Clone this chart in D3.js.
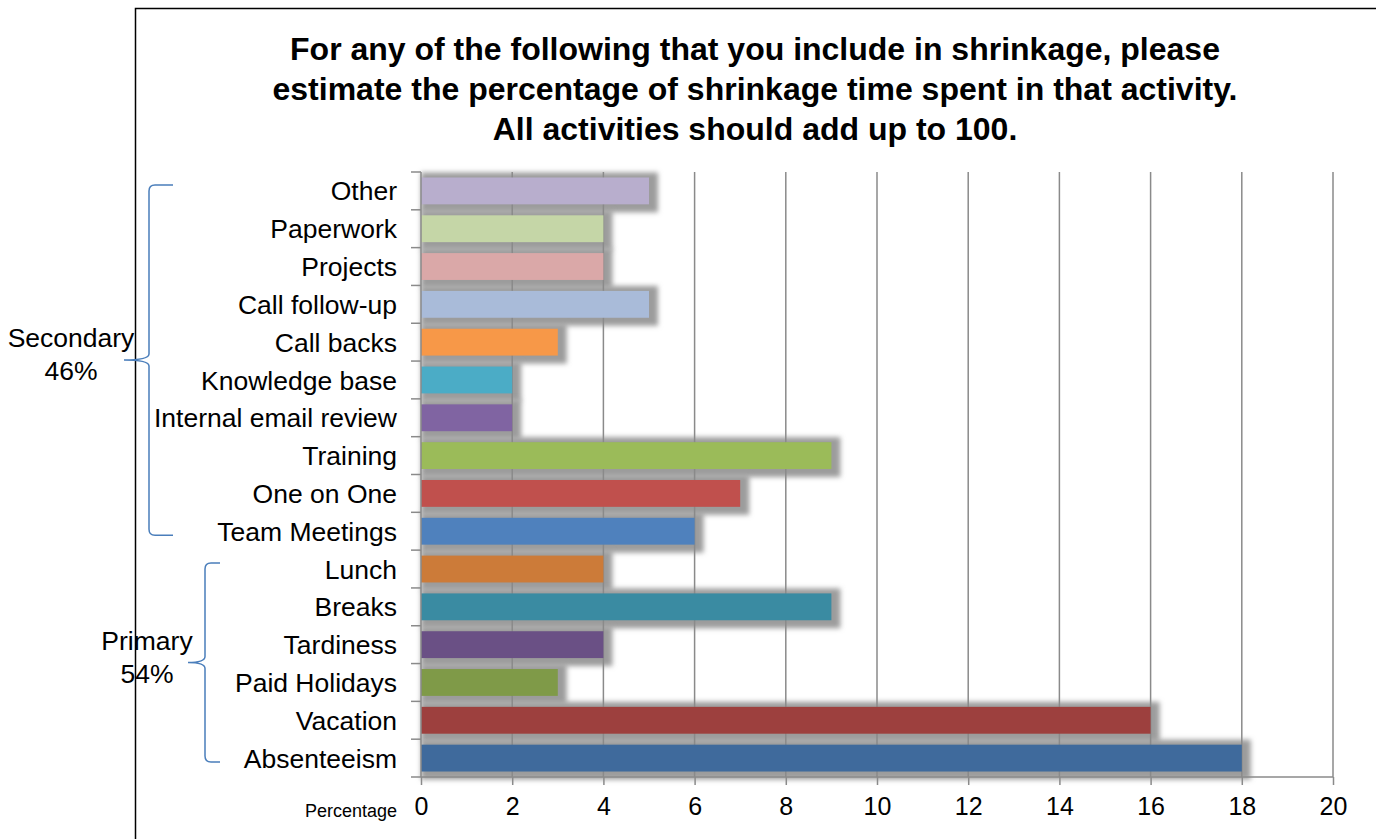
<!DOCTYPE html>
<meta charset="utf-8"/>
<style>
  html, body { margin: 0; padding: 0; background: #fff; }
  text { font-family: "Liberation Sans", Arial, sans-serif; fill: #000; }
  .grid line { stroke: #8a8a8a; stroke-width: 1.5px; }
  .axis path, .axis line { stroke: #8a8a8a; stroke-width: 1.5px; }
  .brace { fill: none; stroke: #4a7ebb; stroke-width: 1.5px; }
</style>
<body>
<svg width="1376" height="839"></svg>
</body>
<script src="https://cdnjs.cloudflare.com/ajax/libs/d3/7.8.5/d3.min.js"></script>
<script>

  // categories, top to bottom as drawn
  var categories = ["Other", "Paperwork", "Projects", "Call follow-up", "Call backs",
    "Knowledge base", "Internal email review", "Training", "One on One", "Team Meetings",
    "Lunch", "Breaks", "Tardiness", "Paid Holidays", "Vacation", "Absenteeism"]
  var values = [5, 4, 4, 5, 3, 2, 2, 9, 7, 6, 4, 9, 4, 3, 16, 18]
  var barColors = ["#b8aecd", "#c5d6a7", "#daa8a8", "#a9bbd9", "#f79848", "#4bacc6",
    "#8064a2", "#9bbb59", "#c0504d", "#4f81bd", "#cc7b39", "#3a8ba2", "#6a5085",
    "#7f9a48", "#9d403e", "#3f6a9c"]
  var xTicks = [0, 2, 4, 6, 8, 10, 12, 14, 16, 18, 20]
  var groups = [
    { name: "Secondary", share: "46%", first: "Other", last: "Team Meetings" },
    { name: "Primary", share: "54%", first: "Lunch", last: "Absenteeism" }
  ]
  var titleLines = [
    "For any of the following that you include in shrinkage, please",
    "estimate the percentage of shrinkage time spent in that activity.",
    "All activities should add up to 100."
  ]

  var svg = d3.select("svg")
  var margin = { left: 421, right: 43, top: 172, bottom: 62 }
  var width = +svg.attr("width"), height = +svg.attr("height")

  var x = d3.scaleLinear().domain([0, 20]).range([margin.left, width - margin.right])
  var y = d3.scaleBand().domain(categories)
    .range([margin.top, height - margin.bottom]).paddingInner(0.29).paddingOuter(0.145)

  // soft grey glow behind each bar
  var defs = svg.append("defs")
  defs.append("filter").attr("id", "blur")
    .attr("x", "-20%").attr("y", "-100%").attr("width", "140%").attr("height", "300%")
    .append("feGaussianBlur").attr("stdDeviation", 2.6)

  // outer frame (runs off the right and bottom of the picture)
  svg.append("path")
    .attr("d", "M135.5," + (height + 5) + "V8.5H" + (width + 5))
    .attr("fill", "none").attr("stroke", "#000").attr("stroke-width", 1.5)

  // title
  svg.append("g").selectAll("text")
    .data(titleLines)
    .enter().append("text")
    .attr("x", 755)
    .attr("y", function (d, i) { return 60 + i * 40 })
    .attr("text-anchor", "middle")
    .style("font-size", "32px")
    .style("font-weight", "bold")
    .text(function (d) { return d })

  // shadows first, so the gridlines still show through them
  svg.append("g").selectAll("rect")
    .data(categories)
    .enter().append("rect")
    .attr("x", x(0))
    .attr("y", function (d) { return y(d) - 5 })
    .attr("width", function (d, i) { return x(values[i]) - x(0) + 9 })
    .attr("height", y.bandwidth() + 13)
    .attr("fill", "#9c9c9c")
    .attr("filter", "url(#blur)")

  // vertical gridlines
  svg.append("g").attr("class", "grid")
    .selectAll("line")
    .data(xTicks.slice(1))
    .enter().append("line")
    .attr("x1", function (d) { return x(d) }).attr("x2", function (d) { return x(d) })
    .attr("y1", margin.top).attr("y2", height - margin.bottom)

  // bars
  svg.append("g").selectAll("rect")
    .data(categories)
    .enter().append("rect")
    .attr("x", x(0))
    .attr("y", function (d) { return y(d) })
    .attr("width", function (d, i) { return x(values[i]) - x(0) })
    .attr("height", y.bandwidth())
    .attr("fill", function (d, i) { return barColors[i] })

  // category axis: line + ticks at band boundaries
  var boundaries = categories.map(function (d) { return y(d) - y.step() * y.paddingInner() / 2 })
  boundaries.push(height - margin.bottom)
  var yAx = svg.append("g").attr("class", "axis")
  yAx.append("path").attr("d", "M" + x(0) + "," + margin.top + "V" + (height - margin.bottom))
  yAx.selectAll("line").data(boundaries).enter().append("line")
    .attr("x1", x(0) - 10).attr("x2", x(0))
    .attr("y1", function (d) { return d }).attr("y2", function (d) { return d })
  yAx.selectAll("text").data(categories).enter().append("text")
    .attr("x", 397)
    .attr("y", function (d) { return y(d) + y.bandwidth() / 2 })
    .attr("dy", "0.36em")
    .attr("text-anchor", "end")
    .style("font-size", "26.5px")
    .text(function (d) { return d })

  // value axis at the bottom
  var xAxis = d3.axisBottom(x).tickValues(xTicks).tickSize(8).tickSizeOuter(0).tickPadding(12)
  var xg = svg.append("g").attr("class", "axis")
    .attr("transform", "translate(0," + (height - margin.bottom) + ")")
    .call(xAxis)
  xg.select(".domain").attr("d", "M" + x(0) + ",0H" + x(20))
  xg.selectAll("text").style("font-size", "25px").attr("font-family", null)
  xg.append("text")
    .attr("x", 397).attr("y", 40)
    .attr("text-anchor", "end")
    .style("font-size", "18px")
    .text("Percentage")

  // group braces and labels
  var braceSpecs = [
    { tipX: 173, barX: 149, midX: 124, labelX: 71 },
    { tipX: 220, barX: 205, midX: 188, labelX: 147 }
  ]
  groups.forEach(function (g, i) {
    var s = braceSpecs[i]
    var y0 = y(g.first) + y.bandwidth() / 2 - 6
    var y1 = y(g.last) + y.bandwidth() / 2 + 4
    var ym = (y0 + y1) / 2
    var r = 6
    var d = "M" + s.tipX + "," + y0 +
      "H" + (s.barX + r) + "Q" + s.barX + "," + y0 + " " + s.barX + "," + (y0 + r) +
      "V" + (ym - r) + "Q" + s.barX + "," + ym + " " + s.midX + "," + ym +
      "Q" + s.barX + "," + ym + " " + s.barX + "," + (ym + r) +
      "V" + (y1 - r) + "Q" + s.barX + "," + y1 + " " + (s.barX + r) + "," + y1 +
      "H" + s.tipX
    svg.append("path").attr("class", "brace").attr("d", d)
    svg.append("text").attr("x", s.labelX).attr("y", ym - 13)
      .attr("text-anchor", "middle").style("font-size", "26.5px").text(g.name)
    svg.append("text").attr("x", s.labelX).attr("y", ym + 20)
      .attr("text-anchor", "middle").style("font-size", "26.5px").text(g.share)
  })

</script>
